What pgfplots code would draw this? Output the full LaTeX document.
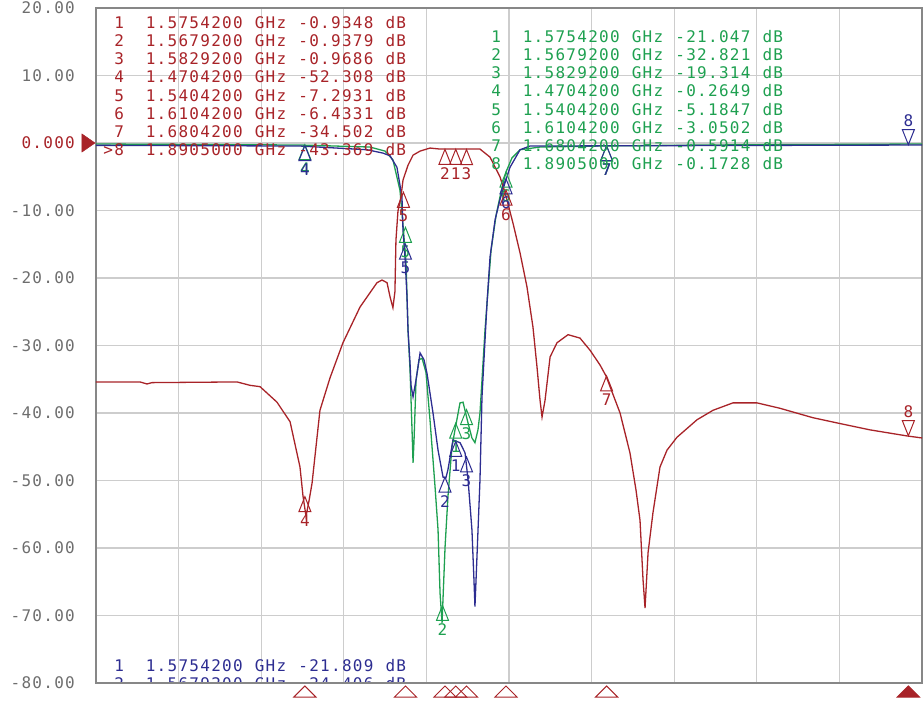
\documentclass[border=0pt]{standalone}
\usepackage{pgfplots}
\pgfplotsset{compat=1.18}
\usepackage{fontspec}
\newfontfamily\mono[LetterSpace=8]{DejaVu Sans Mono}
\newcommand\mlab{\mono\fontsize{16bp}{18.2bp}\selectfont}

\definecolor{tr}{RGB}{168,35,40}
\definecolor{tb}{RGB}{45,45,145}
\definecolor{tg}{RGB}{30,160,80}
\definecolor{tk}{RGB}{110,110,110}
\definecolor{gridc}{RGB}{205,205,205}
\definecolor{framec}{RGB}{135,135,135}

% marker shapes, apex on the trace point
\pgfdeclareplotmark{mup}{%
  \pgfpathmoveto{\pgfpointorigin}%
  \pgfpathlineto{\pgfqpoint{6bp}{-15bp}}%
  \pgfpathlineto{\pgfqpoint{-6bp}{-15bp}}%
  \pgfpathclose\pgfusepathqstroke}
\pgfdeclareplotmark{mdown}{%
  \pgfpathmoveto{\pgfpointorigin}%
  \pgfpathlineto{\pgfqpoint{6bp}{15bp}}%
  \pgfpathlineto{\pgfqpoint{-6bp}{15bp}}%
  \pgfpathclose\pgfusepathqstroke}
\pgfdeclareplotmark{stim}{%
  \pgfpathmoveto{\pgfqpoint{0bp}{-3bp}}%
  \pgfpathlineto{\pgfqpoint{11bp}{-14bp}}%
  \pgfpathlineto{\pgfqpoint{-11bp}{-14bp}}%
  \pgfpathclose\pgfusepathqstroke}
\pgfdeclareplotmark{stimf}{%
  \pgfpathmoveto{\pgfqpoint{0bp}{-3bp}}%
  \pgfpathlineto{\pgfqpoint{11bp}{-14bp}}%
  \pgfpathlineto{\pgfqpoint{-11bp}{-14bp}}%
  \pgfpathclose\pgfusepathqfillstroke}
\pgfdeclareplotmark{refm}{%
  \pgfpathmoveto{\pgfqpoint{-1bp}{0bp}}%
  \pgfpathlineto{\pgfqpoint{-14bp}{9bp}}%
  \pgfpathlineto{\pgfqpoint{-14bp}{-9bp}}%
  \pgfpathclose\pgfusepathqfillstroke}

\pgfplotsset{
  mkup/.style={only marks, mark=mup, mark options={solid, line width=1bp},
    point meta=explicit symbolic, nodes near coords,
    nodes near coords style={anchor=center, inner sep=0pt, yshift=-24bp, font=\mlab}},
  mkdn/.style={only marks, mark=mdown, mark options={solid, line width=1bp},
    point meta=explicit symbolic, nodes near coords,
    nodes near coords style={anchor=center, inner sep=0pt, yshift=24bp, font=\mlab}},
}

% one row of a marker table
\newcommand\mk[3]{\makebox[21.8bp][r]{#1}\hspace*{21.8bp}\makebox[109bp][l]{#2}\makebox[43.6bp][l]{GHz}\makebox[87.2bp][l]{#3}dB}

\begin{document}
\begin{tikzpicture}
\begin{axis}[
  scale only axis, width=826bp, height=675bp,
  xmin=1.325, xmax=1.9, ymin=-80, ymax=20,
  xtick={1.325,1.3825,1.44,1.4975,1.555,1.6125,1.67,1.7275,1.785,1.8425,1.9},
  xticklabels={},
  ytick={-80,-70,...,20},
  yticklabels={-80.00,-70.00,-60.00,-50.00,-40.00,-30.00,-20.00,-10.00,\textcolor{tr}{0.000},10.00,20.00},
  major tick length=0pt,
  grid=major, grid style={gridc, line width=1.3bp},
  axis line style={framec, line width=2bp},
  tick label style={font=\mlab, text=tk},
  yticklabel style={inner sep=0pt, xshift=-21bp},
  clip=false,
]
% green trace
\addplot[tg, line width=1.3bp] coordinates {
(1.3250,-0.15) (1.4670,-0.3) (1.5157,-0.6) (1.5262,-1.2) (1.5317,-2.5)
(1.5366,-7.0) (1.5387,-12.1) (1.5408,-17.6) (1.5422,-27.7) (1.5436,-33.6)
(1.5450,-42.5) (1.5457,-47.4) (1.5464,-44.0) (1.5478,-35.1) (1.5499,-32.1)
(1.5520,-31.9) (1.5547,-34.0) (1.5575,-41.0) (1.5610,-50.9) (1.5631,-57.3)
(1.5645,-66.7) (1.5659,-71.1) (1.5680,-59.8) (1.5700,-52.4) (1.5728,-45.0)
(1.5749,-42.5) (1.5784,-38.5) (1.5805,-38.4) (1.5840,-41.5) (1.5867,-43.7)
(1.5888,-44.4) (1.5909,-42.5) (1.5923,-40.0) (1.5937,-35.1) (1.5958,-27.7)
(1.5979,-21.8) (1.6000,-15.9) (1.6035,-10.7) (1.6069,-7.3) (1.6104,-4.3)
(1.6146,-2.2) (1.6202,-1.0) (1.6341,-0.6) (1.6759,-0.45) (1.7455,-0.3)
(1.9000,-0.15)
};
% blue trace
\addplot[tb, line width=1.3bp] coordinates {
(1.3250,-0.35) (1.4670,-0.45) (1.5137,-1.0) (1.5248,-1.5) (1.5297,-1.9)
(1.5345,-3.6) (1.5380,-8.0) (1.5387,-12.9) (1.5401,-16.9) (1.5415,-22.8)
(1.5422,-27.7) (1.5436,-32.6) (1.5443,-35.9) (1.5457,-37.6) (1.5478,-35.1)
(1.5506,-31.1) (1.5533,-32.1) (1.5554,-34.1) (1.5596,-40.0) (1.5631,-45.5)
(1.5666,-49.5) (1.5686,-49.6) (1.5700,-48.4) (1.5735,-44.0) (1.5784,-44.4)
(1.5819,-45.9) (1.5840,-49.9) (1.5867,-57.3) (1.5881,-64.7) (1.5888,-68.7)
(1.5902,-61.3) (1.5923,-49.9) (1.5937,-37.6) (1.5958,-29.2) (1.5972,-23.7)
(1.5993,-16.9) (1.6028,-11.4) (1.6062,-8.4) (1.6097,-5.9) (1.6132,-3.6)
(1.6202,-1.0) (1.6271,-0.45) (1.9000,-0.3)
};
% red trace
\addplot[tr, line width=1.3bp] coordinates {
(1.3250,-35.4) (1.3556,-35.4) (1.3605,-35.7) (1.3640,-35.5) (1.4232,-35.4)
(1.4322,-35.9) (1.4392,-36.1) (1.4510,-38.4) (1.4601,-41.3) (1.4670,-48.0)
(1.4691,-52.3) (1.4712,-55.3) (1.4733,-53.0) (1.4754,-50.4) (1.4809,-39.6)
(1.4879,-34.8) (1.4969,-29.6) (1.5088,-24.3) (1.5206,-20.7) (1.5241,-20.3)
(1.5276,-20.7) (1.5297,-22.8) (1.5317,-24.4) (1.5331,-22.0) (1.5338,-14.4)
(1.5352,-10.1) (1.5373,-8.0) (1.5387,-5.5) (1.5422,-3.3) (1.5457,-1.8)
(1.5506,-1.2) (1.5575,-0.75) (1.5645,-0.9) (1.5923,-0.9) (1.5993,-2.1)
(1.6062,-5.0) (1.6097,-7.3) (1.6153,-11.9) (1.6202,-16.3) (1.6250,-21.3)
(1.6292,-27.3) (1.6320,-33.2) (1.6341,-38.1) (1.6355,-40.6) (1.6376,-38.1)
(1.6411,-31.7) (1.6459,-29.6) (1.6536,-28.4) (1.6619,-28.9) (1.6689,-30.7)
(1.6759,-32.9) (1.6800,-34.5) (1.6898,-40.0) (1.6967,-45.9) (1.7009,-51.4)
(1.7037,-55.9) (1.7058,-64.7) (1.7072,-68.9) (1.7093,-60.7) (1.7127,-54.8)
(1.7176,-48.0) (1.7225,-45.5) (1.7294,-43.6) (1.7434,-41.0) (1.7545,-39.6)
(1.7684,-38.5) (1.7851,-38.5) (1.8011,-39.3) (1.8241,-40.7) (1.8415,-41.5)
(1.8638,-42.5) (1.8896,-43.4) (1.9000,-43.7)
};
% markers on the traces
\addplot[tg, mkup] coordinates {
(1.47042,-0.25)[4] (1.54042,-12.5)[5] (1.5662,-68.5)[2] (1.57542,-41.5)[1]
(1.58292,-39.5)[3] (1.61042,-4.3)[6] (1.68042,-0.45)[7]};
\addplot[tb, mkup] coordinates {
(1.47042,-0.4)[4] (1.54042,-15.0)[5] (1.56792,-49.5)[2] (1.57542,-44.2)[1]
(1.58292,-46.5)[3] (1.61042,-5.3)[6] (1.68042,-0.4)[7]};
\addplot[tb, mkdn] coordinates {(1.8905,-0.25)[8]};
\addplot[tr, mkup] coordinates {
(1.47042,-52.4)[4] (1.5390,-7.3)[5] (1.56792,-0.94)[2] (1.57542,-0.93)[1]
(1.58292,-0.97)[3] (1.61042,-7.0)[6] (1.68042,-34.5)[7]};
\addplot[tr, mkdn] coordinates {(1.8905,-43.37)[8]};
% stimulus markers under the axis and reference level
\addplot[tr, only marks, mark=stim, mark options={solid, line width=1bp}] coordinates {
(1.47042,-80) (1.54042,-80) (1.56792,-80) (1.57542,-80) (1.58292,-80)
(1.61042,-80) (1.68042,-80)};
\addplot[tr, only marks, mark=stimf, mark options={solid, line width=1bp, fill=tr}] coordinates {(1.8905,-80)};
\addplot[tr, only marks, mark=refm, mark options={solid, line width=0.5bp, fill=tr}] coordinates {(1.325,0)};
\end{axis}
% marker tables
\node[anchor=north west, inner sep=0pt, align=left, text=tr, font=\mlab] at (6bp,667bp) {%
\mk{1}{1.5754200}{-0.9348}\\
\mk{2}{1.5679200}{-0.9379}\\
\mk{3}{1.5829200}{-0.9686}\\
\mk{4}{1.4704200}{-52.308}\\
\mk{5}{1.5404200}{-7.2931}\\
\mk{6}{1.6104200}{-6.4331}\\
\mk{7}{1.6804200}{-34.502}\\
\mk{>8}{1.8905000}{-43.369}};
\node[anchor=north west, inner sep=0pt, align=left, text=tg, font=\mlab] at (383bp,653bp) {%
\mk{1}{1.5754200}{-21.047}\\
\mk{2}{1.5679200}{-32.821}\\
\mk{3}{1.5829200}{-19.314}\\
\mk{4}{1.4704200}{-0.2649}\\
\mk{5}{1.5404200}{-5.1847}\\
\mk{6}{1.6104200}{-3.0502}\\
\mk{7}{1.6804200}{-0.5914}\\
\mk{8}{1.8905000}{-0.1728}};
\begin{scope}
\clip (0bp,1bp) rectangle (826bp,675bp);
\node[anchor=north west, inner sep=0pt, align=left, text=tb, font=\mlab] at (6bp,24bp) {%
\mk{1}{1.5754200}{-21.809}\\
\mk{2}{1.5679200}{-24.406}};
\end{scope}
\pgfresetboundingbox
\path[use as bounding box] (-96bp,-18bp) rectangle (827bp,683bp);
\end{tikzpicture}
\end{document}
